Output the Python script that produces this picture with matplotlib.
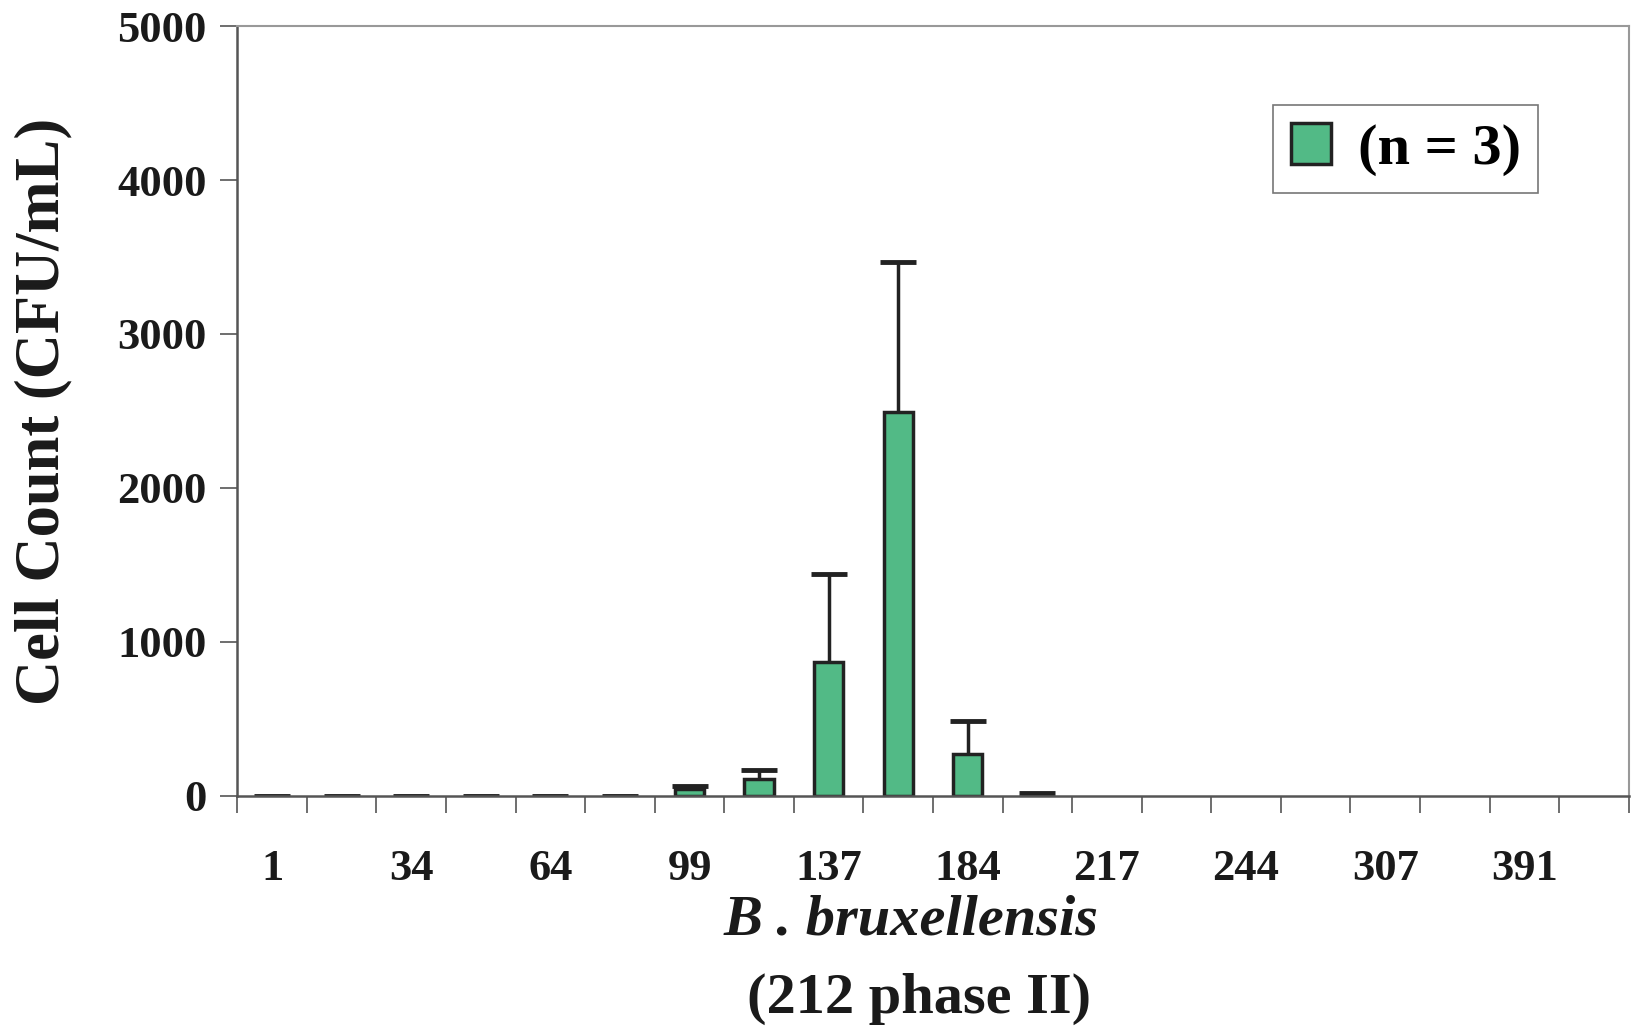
import numpy as np
import matplotlib
matplotlib.use('Agg')
import matplotlib.pyplot as plt
from matplotlib.patches import Patch

# sampling days (only every other one is labelled on the axis)
days = ['1', '', '34', '', '64', '', '99', '', '137', '', '184', '', '217', '', '244', '', '307', '', '391', '']
counts = [0, 0, 0, 0, 0, 0, 45, 108, 868, 2495, 272, 5, None, None, None, None, None, None, None, None]
errs = [0, 0, 0, 0, 0, 0, 22, 62, 572, 972, 215, 15, None, None, None, None, None, None, None, None]

green = '#52BA86'
plt.rcParams['font.family'] = ['Liberation Serif', 'DejaVu Serif']
plt.rcParams['font.weight'] = 'bold'

fig = plt.figure(figsize=(16.32, 10.30), dpi=100)
ax = fig.add_axes([0.1454, 0.2273, 0.8526, 0.7474])

idx = [i for i, c in enumerate(counts) if c is not None]
vals = [counts[i] for i in idx]
up = [errs[i] for i in idx]
# upper error bars only
eb = ax.errorbar(idx, vals, yerr=[np.zeros(len(up)), up], fmt='none', ecolor='#222222',
                 elinewidth=2.5, capsize=13, capthick=3.5, zorder=1)
eb[1][0].set_visible(False)
ax.bar(idx, vals, width=0.42, color=green, edgecolor='#222222', linewidth=2.5, zorder=2)

n = len(days)
ax.set_xlim(-0.5, n - 0.5)
ax.set_ylim(0, 5000)
ax.set_yticks(range(0, 5001, 1000))
ax.set_xticks(np.arange(-0.5, n, 1.0))
ax.set_xticklabels([])
ax.set_xticks(range(n), minor=True)
ax.set_xticklabels(days, minor=True)
ax.tick_params(axis='x', which='major', direction='out', length=12, width=1.2, color='#555555')
ax.tick_params(axis='x', which='minor', length=0, pad=38, labelsize=32)
ax.tick_params(axis='y', direction='out', length=12, width=1.2, color='#555555', labelsize=32, pad=10)
for lab in ax.get_xticklabels(minor=True) + ax.get_yticklabels():
  lab.set_fontweight('bold')
  lab.set_color('#1a1a1a')

for side in ['top', 'right']:
  ax.spines[side].set_color('#999999')
  ax.spines[side].set_linewidth(1.5)
for side in ['left', 'bottom']:
  ax.spines[side].set_color('#555555')
  ax.spines[side].set_linewidth(1.8)

ax.set_ylabel('Cell Count (CFU/mL)', fontsize=45, fontweight='bold', color='#1a1a1a', labelpad=32)

fig.text(0.558, 0.106, 'B . bruxellensis', fontsize=42, fontweight='bold', style='italic',
         ha='center', va='center', color='#1a1a1a')
fig.text(0.563, 0.030, '(212 phase II)', fontsize=42, fontweight='bold',
         ha='center', va='center', color='#1a1a1a')

handle = Patch(facecolor=green, edgecolor='#222222', linewidth=2.5)
leg = ax.legend([handle], ['(n = 3)'], loc='upper right', bbox_to_anchor=(0.935, 0.897),
                borderaxespad=0, fancybox=False, framealpha=1, edgecolor='#777777',
                handlelength=0.7, handleheight=0.7, handletextpad=0.45, borderpad=0.3,
                prop=dict(weight='bold', size=42))
leg.get_frame().set_linewidth(1.2)

fig.savefig('out.png', dpi=100)
